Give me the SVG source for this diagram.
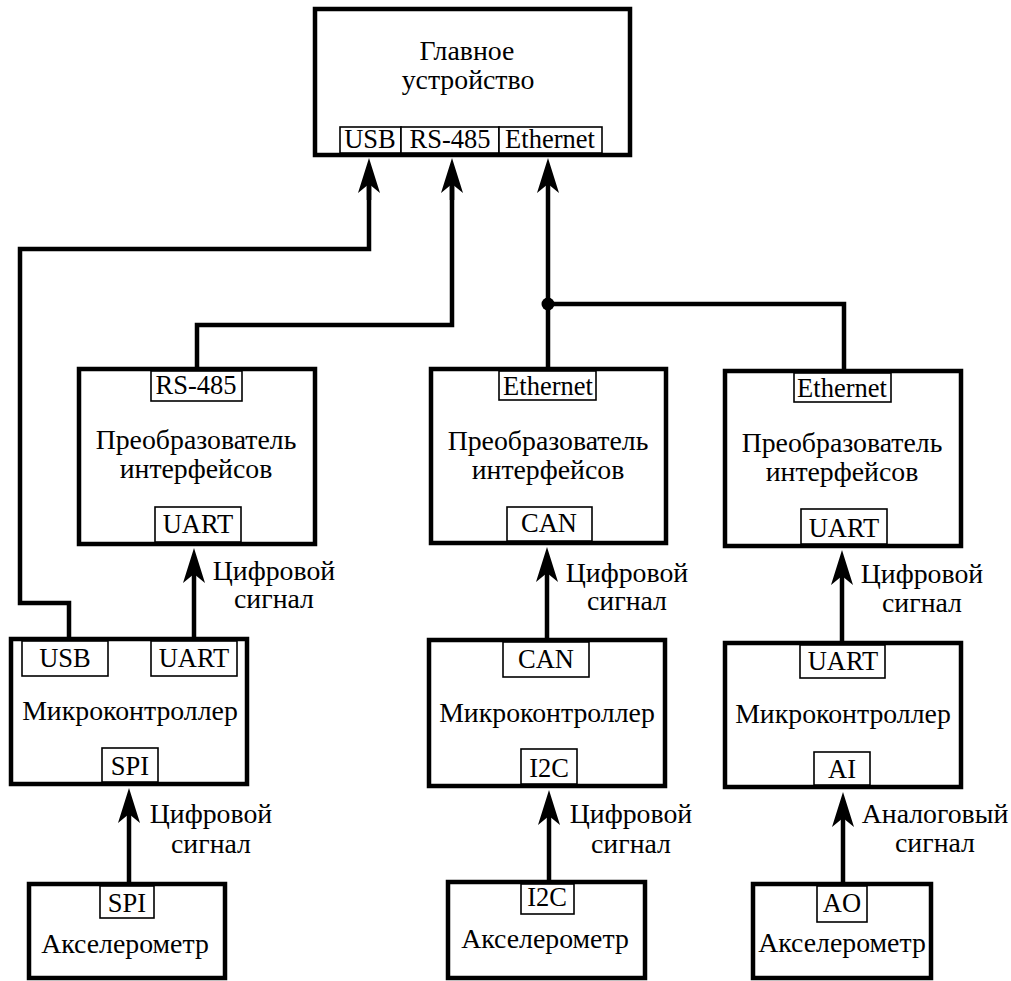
<svg xmlns="http://www.w3.org/2000/svg" width="1011" height="981" viewBox="0 0 1011 981" font-family="Liberation Serif, DejaVu Serif, serif">
<style>
.box{fill:#fff;stroke:#000;stroke-width:4.5}
.port{fill:#fff;stroke:#000;stroke-width:1.6}
.t{font-family:'Liberation Serif','DejaVu Serif',serif;font-size:26.5px;fill:#000;text-anchor:middle}
.c{font-size:27.8px}
.w{fill:none;stroke:#000;stroke-width:4.5;stroke-linejoin:miter}
.a{fill:none;stroke:#000;stroke-width:4.5;marker-end:url(#ah)}
</style>
<defs>
<marker id="ah" markerUnits="userSpaceOnUse" markerWidth="40" markerHeight="30" refX="0" refY="0" orient="auto" overflow="visible">
<path d="M26,0 L-9,-11 L0,0 L-9,11 Z" fill="#000"/>
</marker>
</defs>
<rect width="1011" height="981" fill="#fff"/>

<g id="connectors">
<polyline class="w" points="69,639 69,603 20,603 20,249 369,249 369,184"/>
<polyline class="w" points="197,369 197,325 452,325 452,184"/>
<line class="a" x1="369" y1="200" x2="369" y2="184"/>
<line class="a" x1="452" y1="200" x2="452" y2="184"/>
<line class="a" x1="548" y1="369" x2="548" y2="184"/>
<polyline class="w" points="548,304 844,304 844,371"/>
<circle cx="548" cy="304" r="6.5" fill="#000"/>
<line class="a" x1="194" y1="639" x2="194" y2="574"/>
<line class="a" x1="547" y1="640" x2="547" y2="573"/>
<line class="a" x1="842" y1="643" x2="842" y2="576"/>
<line class="a" x1="129" y1="884" x2="129" y2="814"/>
<line class="a" x1="549" y1="882" x2="549" y2="816"/>
<line class="a" x1="843" y1="884" x2="843" y2="818"/>
<text class="t c" x="274" y="580">Цифровой</text>
<text class="t c" x="274" y="608">сигнал</text>
<text class="t c" x="627" y="582">Цифровой</text>
<text class="t c" x="627" y="610">сигнал</text>
<text class="t c" x="922" y="583">Цифровой</text>
<text class="t c" x="922" y="612">сигнал</text>
<text class="t c" x="211" y="823">Цифровой</text>
<text class="t c" x="211" y="853">сигнал</text>
<text class="t c" x="631" y="823">Цифровой</text>
<text class="t c" x="631" y="853">сигнал</text>
<text class="t c" x="935" y="823">Аналоговый</text>
<text class="t c" x="935" y="852">сигнал</text>
</g>

<g id="main">
<rect class="box" x="315" y="9" width="315" height="146"/>
<text class="t c" x="467" y="60">Главное</text>
<text class="t c" x="468" y="89">устройство</text>
<rect class="port" x="340" y="127" width="61" height="26"/>
<rect class="port" x="401" y="127" width="98" height="26"/>
<rect class="port" x="499" y="127" width="103" height="26"/>
<text class="t" x="370" y="148">USB</text>
<text class="t" x="450" y="148">RS-485</text>
<text class="t" x="550" y="148">Ethernet</text>
</g>

<g id="conv1">
<rect class="box" x="79" y="369" width="236" height="175"/>
<rect class="port" x="151" y="371" width="91" height="30"/>
<text class="t" x="196" y="394">RS-485</text>
<text class="t c" x="196" y="449">Преобразователь</text>
<text class="t c" x="196" y="478">интерфейсов</text>
<rect class="port" x="155" y="507" width="86" height="35"/>
<text class="t" x="198" y="533">UART</text>
</g>

<g id="conv2">
<rect class="box" x="431" y="369" width="235" height="174"/>
<rect class="port" x="499" y="371" width="97" height="29"/>
<text class="t" x="548" y="395">Ethernet</text>
<text class="t c" x="548" y="450">Преобразователь</text>
<text class="t c" x="548" y="479">интерфейсов</text>
<rect class="port" x="507" y="507" width="85" height="34"/>
<text class="t" x="549" y="532">CAN</text>
</g>

<g id="conv3">
<rect class="box" x="725" y="371" width="236" height="175"/>
<rect class="port" x="794" y="373" width="97" height="29"/>
<text class="t" x="842" y="397">Ethernet</text>
<text class="t c" x="842" y="452">Преобразователь</text>
<text class="t c" x="842" y="481">интерфейсов</text>
<rect class="port" x="801" y="509" width="86" height="35"/>
<text class="t" x="844" y="537">UART</text>
</g>

<g id="micro1">
<rect class="box" x="11" y="639" width="236" height="145"/>
<rect class="port" x="22" y="641" width="86" height="35"/>
<text class="t" x="65" y="667">USB</text>
<rect class="port" x="151" y="641" width="86" height="35"/>
<text class="t" x="194" y="667">UART</text>
<text class="t c" x="130" y="720">Микроконтроллер</text>
<rect class="port" x="102" y="748" width="56" height="34"/>
<text class="t" x="130" y="775">SPI</text>
</g>

<g id="micro2">
<rect class="box" x="429" y="640" width="236" height="146"/>
<rect class="port" x="503" y="642" width="86" height="35"/>
<text class="t" x="546" y="668">CAN</text>
<text class="t c" x="547" y="722">Микроконтроллер</text>
<rect class="port" x="521" y="749" width="56" height="35"/>
<text class="t" x="549" y="777">I2C</text>
</g>

<g id="micro3">
<rect class="box" x="725" y="643" width="236" height="144"/>
<rect class="port" x="800" y="645" width="85" height="33"/>
<text class="t" x="843" y="670">UART</text>
<text class="t c" x="843" y="723">Микроконтроллер</text>
<rect class="port" x="814" y="752" width="56" height="33"/>
<text class="t" x="842" y="778">AI</text>
</g>

<g id="acc1">
<rect class="box" x="29" y="884" width="196" height="94"/>
<rect class="port" x="100" y="886" width="54" height="32"/>
<text class="t" x="127" y="912">SPI</text>
<text class="t c" x="125" y="953">Акселерометр</text>
</g>

<g id="acc2">
<rect class="box" x="448" y="882" width="197" height="96"/>
<rect class="port" x="521" y="884" width="53" height="30"/>
<text class="t" x="547" y="906">I2C</text>
<text class="t c" x="545" y="948">Акселерометр</text>
</g>

<g id="acc3">
<rect class="box" x="753" y="884" width="178" height="94"/>
<rect class="port" x="817" y="886" width="50" height="36"/>
<text class="t" x="842" y="912">AO</text>
<text class="t c" x="842" y="952">Акселерометр</text>
</g>
</svg>
